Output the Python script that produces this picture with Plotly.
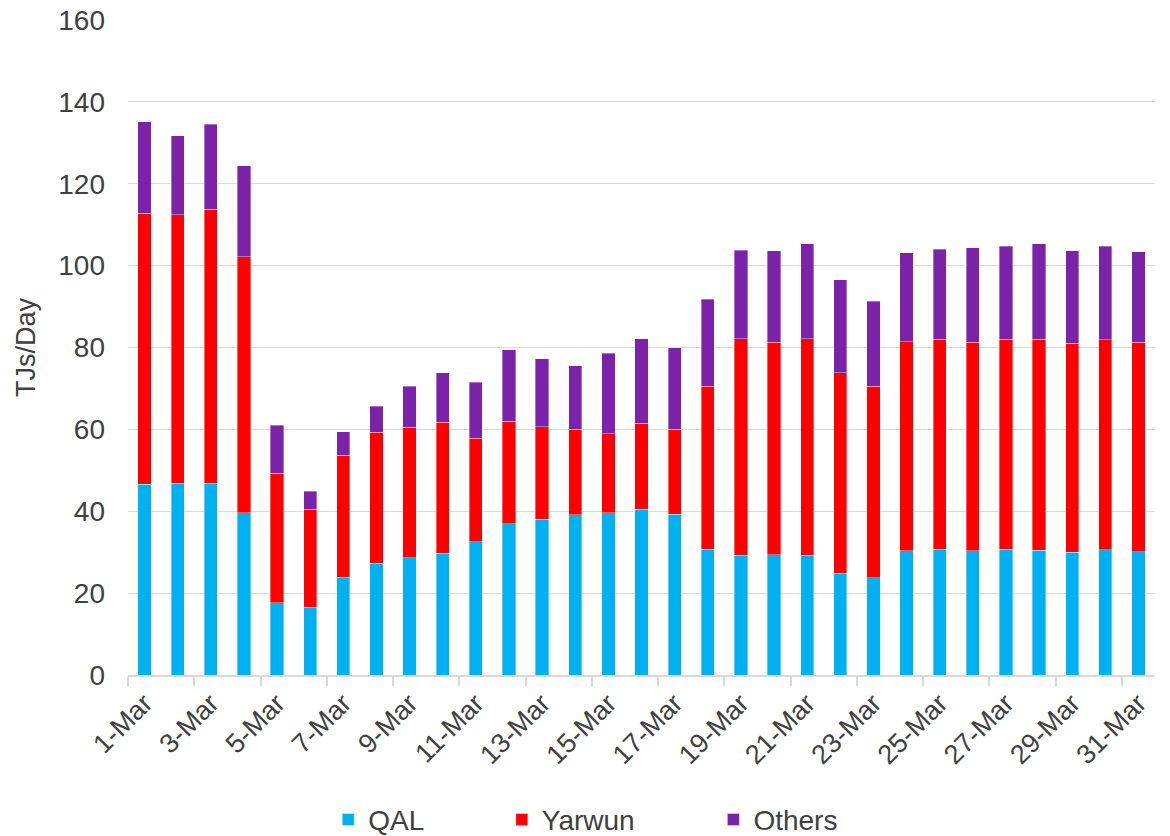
import plotly.graph_objects as go

days = [f"{d}-Mar" for d in range(1, 32)]
totals = [135.2, 131.8, 134.5, 124.4, 61.0, 44.9, 59.4, 65.7, 70.5, 73.8,
          71.5, 79.5, 77.3, 75.5, 78.6, 82.2, 79.9, 91.8, 103.8, 103.7,
          105.4, 96.6, 91.3, 103.2, 104.0, 104.4, 104.7, 105.3, 103.7, 104.7, 103.4]
red_tops = [112.8, 112.5, 113.8, 102.2, 49.3, 40.5, 53.7, 59.3, 60.5, 61.7,
            57.8, 62.0, 60.7, 60.0, 59.0, 61.5, 60.0, 70.5, 82.1, 81.3,
            82.1, 73.9, 70.5, 81.4, 82.0, 81.3, 82.0, 82.0, 81.0, 81.9, 81.3]
qal = [46.6, 46.8, 46.8, 39.7, 17.7, 16.6, 23.9, 27.3, 28.6, 29.8,
       32.5, 37.0, 38.1, 39.1, 39.7, 40.5, 39.3, 30.7, 29.3, 29.4,
       29.3, 24.8, 23.7, 30.3, 30.7, 30.3, 30.7, 30.5, 30.0, 30.6, 30.1]
yarwun = [round(r - q, 1) for r, q in zip(red_tops, qal)]
others = [round(t - r, 1) for t, r in zip(totals, red_tops)]

x = list(range(1, 32))
tick_vals = x[::2]
tick_text = days[::2]
y_ticks = list(range(0, 161, 20))

font_family = "Liberation Sans, Arial, sans-serif"
series = [("QAL", qal, "#00B0F0", "legend", 0.195),
          ("Yarwun", yarwun, "#FF0000", "legend2", 0.364),
          ("Others", others, "#7B22A8", "legend3", 0.570)]

fig = go.Figure()
for name, vals, color, leg, _ in series:
    fig.add_trace(go.Bar(x=x, y=vals, name=name, marker_color=color, legend=leg,
                         marker_line=dict(width=0.6, color="rgba(255,255,255,0.6)")))

legend_common = dict(orientation="h", y=-0.221, yanchor="middle", xanchor="left",
                     font=dict(size=28, color="#404040"), itemwidth=30,
                     bgcolor="rgba(0,0,0,0)")

fig.update_layout(
    barmode="stack", bargap=0.6,
    width=1170, height=836,
    margin=dict(l=128, r=15, t=20, b=161, autoexpand=False),
    plot_bgcolor="white", paper_bgcolor="white",
    font=dict(family=font_family, size=28, color="#404040"),
    legend=dict(x=series[0][4], **legend_common),
    legend2=dict(x=series[1][4], **legend_common),
    legend3=dict(x=series[2][4], **legend_common),
    showlegend=True,
)
fig.update_xaxes(
    range=[0.5, 31.5], tickmode="array", tickvals=tick_vals, ticktext=tick_text,
    tickangle=-45, ticks="", showgrid=False,
    showline=True, linecolor="#D9D9D9", linewidth=1.5,
    tickfont=dict(size=27, color="#404040"),
    minor=dict(tickmode="array", tickvals=[v + 0.5 for v in range(0, 32, 2)],
               ticks="outside", ticklen=9, tickcolor="#D9D9D9", tickwidth=1.5,
               showgrid=False),
)
fig.update_yaxes(
    range=[0, 160.02], tickmode="array", tickvals=y_ticks,
    showgrid=True, gridcolor="#D9D9D9", gridwidth=1.3,
    zeroline=False, showline=False, ticks="", ticklabelstandoff=22,
    ticklabeloverflow="allow",
    tickfont=dict(size=28, color="#404040"),
    title=dict(text="TJs/Day", font=dict(size=27, color="#404040"), standoff=14),
)

# remove the page's default 8px body margin so the figure fills the window
fig.write_html("out.html", config={"displayModeBar": False},
               post_script="document.body.style.margin='0';")
